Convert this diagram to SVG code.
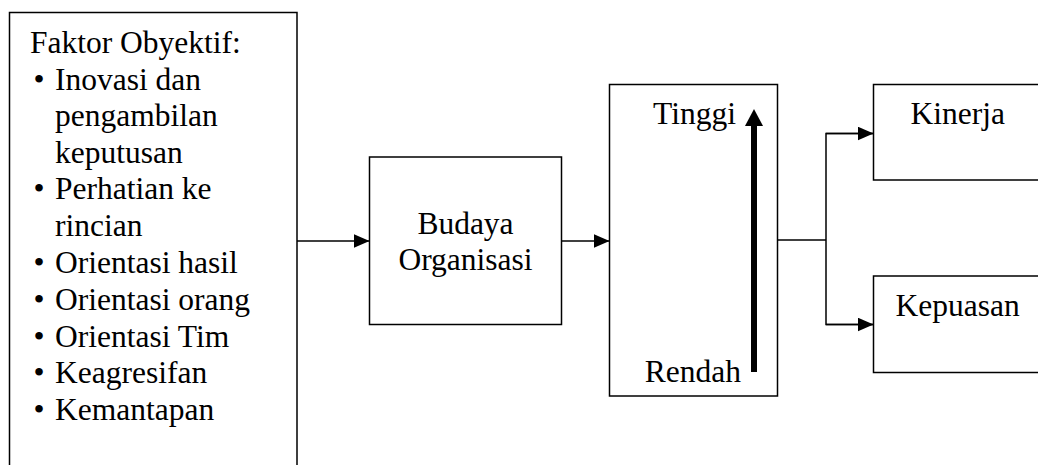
<svg xmlns="http://www.w3.org/2000/svg" width="1038" height="465" viewBox="0 0 1038 465">
<style>
.box{fill:#fff;stroke:#000;stroke-width:1.5}
.t{font-family:"Liberation Serif","Times New Roman",serif;font-size:31.5px;fill:#000}
.ln{fill:none;stroke:#000;stroke-width:1.5}
</style>
<defs>
<marker id="ah" markerWidth="16" markerHeight="14" refX="16" refY="7" orient="auto" markerUnits="userSpaceOnUse">
<path d="M0,0 L16,7 L0,14 Z" fill="#000"/>
</marker>
</defs>
<rect width="1038" height="465" fill="#fff"/>
<g id="faktor">
<path class="box" d="M9.5,480 V12.5 H297 V480"/>
<text class="t" x="30" y="53">Faktor Obyektif:</text>
<g class="t" text-anchor="middle">
<text x="39" y="89.5">•</text>
<text x="39" y="199">•</text>
<text x="39" y="272.5">•</text>
<text x="39" y="309.5">•</text>
<text x="39" y="346.5">•</text>
<text x="39" y="383">•</text>
<text x="39" y="419.5">•</text>
</g>
<text class="t" x="55" y="89.5">Inovasi dan</text>
<text class="t" x="55" y="126">pengambilan</text>
<text class="t" x="55" y="162.5">keputusan</text>
<text class="t" x="55" y="199">Perhatian ke</text>
<text class="t" x="55" y="235.5">rincian</text>
<text class="t" x="55" y="272.5">Orientasi hasil</text>
<text class="t" x="55" y="309.5">Orientasi orang</text>
<text class="t" x="55" y="346.5">Orientasi Tim</text>
<text class="t" x="55" y="383">Keagresifan</text>
<text class="t" x="55" y="419.5">Kemantapan</text>
</g>
<g id="budaya">
<rect class="box" x="369.5" y="157" width="192" height="167.5"/>
<text class="t" x="465.5" y="234" text-anchor="middle">Budaya</text>
<text class="t" x="465.5" y="270" text-anchor="middle">Organisasi</text>
</g>
<g id="level">
<rect class="box" x="609.5" y="84.5" width="168" height="311.5"/>
<text class="t" x="736" y="123.5" text-anchor="end">Tinggi</text>
<text class="t" x="741" y="382" text-anchor="end">Rendah</text>
<line x1="754" y1="372" x2="754" y2="124" stroke="#000" stroke-width="6"/>
<path d="M745,126 L754,109 L763,126 Z" fill="#000"/>
</g>
<g id="kinerja">
<path class="box" d="M1045,84.5 H873.5 V180 H1045"/>
<text class="t" x="910.5" y="123.5">Kinerja</text>
</g>
<g id="kepuasan">
<path class="box" d="M1045,276 H873.5 V372.5 H1045"/>
<text class="t" x="895.5" y="316">Kepuasan</text>
</g>
<g id="connectors">
<line class="ln" x1="297" y1="241" x2="369.5" y2="241" marker-end="url(#ah)"/>
<line class="ln" x1="561.5" y1="241" x2="609.5" y2="241" marker-end="url(#ah)"/>
<line class="ln" x1="777.5" y1="240" x2="826" y2="240"/>
<path class="ln" d="M873.5,133.5 H826 V324.5 H873.5"/>
<line class="ln" x1="826" y1="133.5" x2="873.5" y2="133.5" marker-end="url(#ah)"/>
<line class="ln" x1="826" y1="324.5" x2="873.5" y2="324.5" marker-end="url(#ah)"/>
</g>
</svg>
